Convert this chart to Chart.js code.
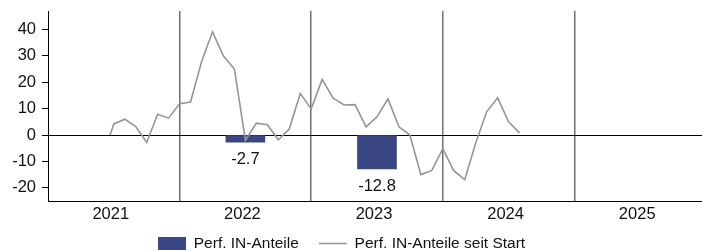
<!DOCTYPE html>
<html>
<head>
<meta charset="utf-8">
<script src="https://cdn.jsdelivr.net/npm/chart.js@4.4.1/dist/chart.umd.min.js"></script>
<style>
  html, body { margin: 0; padding: 0; background: #fff; overflow: hidden; }
  #wrap { width: 706px; height: 250px; }
</style>
</head>
<body>
<div id="wrap"><canvas id="chart" width="706" height="250"></canvas></div>
<script>
const years = ["2021", "2022", "2023", "2024", "2025"];
const barValues = [null, -2.7, -12.8, null, null];

// months since start of 2021 (month-end points, first one is the start date)
const lineMonths = [5.66, 6, 7, 8, 9, 10, 11, 12, 13, 14, 15, 16, 17, 18, 19, 20, 21, 22, 23, 24,
  25, 26, 27, 28, 29, 30, 31, 32, 33, 34, 35, 36, 37, 38, 39, 40, 41, 42, 43];
const lineValues = [0, 4.2, 6.0, 3.2, -2.8, 7.9, 6.4, 11.9, 12.5, 27.8, 39.1, 29.9, 25.0, -2.0, 4.5, 3.9, -1.8, 2.3, 15.7, 9.9,
  21.1, 14.0, 11.4, 11.5, 3.1, 6.9, 13.7, 3.1, 0, -15.0, -13.4, -5.2, -13.5, -16.9, -3.0, 8.8, 14.1, 5.0, 0.8];

const yTicks = [-20, -10, 0, 10, 20, 30, 40];
const barLabel = "Perf. IN-Anteile";
const lineLabel = "Perf. IN-Anteile seit Start";

const BAR_COLOR = "#3a4784";
const LINE_COLOR = "#959595";
const TEXT = "#111";
const NONE = "rgba(0,0,0,0)";
const M = 12; // months per year on the x scale

Chart.defaults.font.family = '"Liberation Sans", Arial, sans-serif';
Chart.defaults.color = TEXT;

// value labels under the bars
const barLabels = {
  id: "barLabels",
  afterDatasetsDraw(chart) {
    const meta = chart.getDatasetMeta(0);
    const ctx = chart.ctx;
    ctx.save();
    ctx.font = '16.5px "Liberation Sans", Arial, sans-serif';
    ctx.fillStyle = TEXT;
    ctx.textAlign = "center";
    ctx.textBaseline = "middle";
    meta.data.forEach((bar, i) => {
      const v = barValues[i];
      if (v == null) return;
      ctx.fillText(v.toFixed(1), bar.x, bar.y + 17.5);
    });
    ctx.restore();
  },
};

// nudge legend to where the original sits
const legendShift = {
  id: "legendShift",
  afterLayout(chart) {
    const lg = chart.legend;
    if (!lg) return;
    lg.left -= 11.4; lg.right -= 11.4;
    lg.top -= 15.25; lg.bottom -= 15.25;
  },
};

new Chart(document.getElementById("chart"), {
  type: "line",
  data: {
    datasets: [
      {
        type: "bar", label: barLabel,
        data: barValues.map((v, i) => ({ x: i * M + M / 2, y: v })),
        backgroundColor: BAR_COLOR, borderWidth: 0, barThickness: 39, order: 2,
      },
      {
        type: "line", label: lineLabel,
        data: lineMonths.map((m, i) => ({ x: m, y: lineValues[i] })),
        borderColor: LINE_COLOR, backgroundColor: LINE_COLOR, borderWidth: 1.6,
        pointRadius: 0, tension: 0, order: 1,
      },
    ],
  },
  options: {
    responsive: false, devicePixelRatio: 1, animation: false,
    layout: { padding: { top: 0, left: 0, right: 0, bottom: -26.5 } },
    scales: {
      x: {
        type: "linear", min: 0, max: years.length * M, offset: false,
        afterBuildTicks: (s) => { s.ticks = years.map((_, i) => ({ value: i * M })).concat([{ value: years.length * M }]); },
        grid: {
          offset: false, drawTicks: false, lineWidth: 1.5,
          color: (c) => (c.tick && c.tick.value > 0 && c.tick.value < years.length * M ? "#707070" : NONE),
        },
        border: { display: true, color: "#000", width: 1 },
        ticks: {
          font: { size: 16.5 }, color: TEXT, padding: 4, labelOffset: 62.8,
          autoSkip: false, maxRotation: 0,
          callback: (v) => years[v / M] ?? "",
        },
        afterFit: (s) => { s.height = 30; s.paddingLeft = 0; s.paddingRight = 0; },
      },
      y: {
        min: -25, max: 47,
        afterBuildTicks: (s) => { s.ticks = yTicks.map((v) => ({ value: v })); },
        grid: {
          drawTicks: true, tickLength: 6, tickColor: "#000", lineWidth: 1,
          color: (c) => (c.tick && c.tick.value === 0 ? "#000" : NONE),
        },
        border: { display: true, color: "#000", width: 1 },
        ticks: { font: { size: 16.5 }, color: TEXT, padding: 6 },
        afterFit: (s) => { s.width = 48; s.paddingTop = 11; s.paddingBottom = 0; },
      },
    },
    plugins: {
      tooltip: { enabled: false },
      legend: {
        position: "bottom",
        labels: {
          usePointStyle: true, pointStyleWidth: 28, boxHeight: 13, padding: 20,
          font: { size: 15.5 }, color: TEXT,
          sort: (a, b) => a.datasetIndex - b.datasetIndex,
          generateLabels: (chart) => {
            const items = Chart.defaults.plugins.legend.labels.generateLabels(chart);
            items.forEach((it) => {
              if (it.datasetIndex === 0) { it.pointStyle = "rect"; it.lineWidth = 0; }
              else { it.pointStyle = "line"; it.strokeStyle = LINE_COLOR; it.lineWidth = 1.6; }
            });
            return items;
          },
        },
      },
    },
  },
  plugins: [barLabels, legendShift],
});
</script>
</body>
</html>
